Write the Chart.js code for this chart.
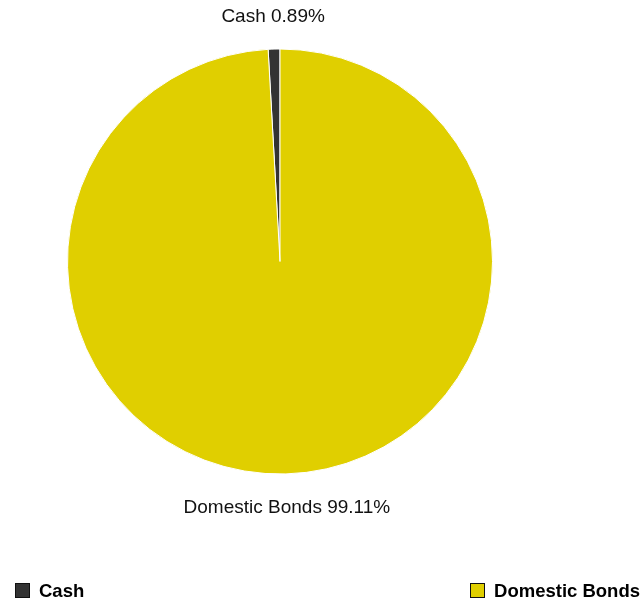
<!DOCTYPE html>
<html>
<head>
<meta charset="utf-8">
<script src="https://cdn.jsdelivr.net/npm/chart.js@4/dist/chart.umd.min.js"></script>
<style>
  html, body { margin: 0; padding: 0; background: #fff; }
  #wrap { position: relative; width: 644px; height: 601px; }
  #legend { position: absolute; left: 0; right: 0; top: 580px; height: 21px;
    font-family: "Liberation Sans", Arial, sans-serif; font-weight: bold; font-size: 18.5px; color: #000; }
  .item { position: absolute; top: 0; display: flex; align-items: center; white-space: nowrap; line-height: 21px; }
  .box { width: 13px; height: 13px; border: 1px solid #111; margin-right: 9px; }
</style>
</head>
<body>
<div id="wrap">
  <canvas id="grafica" width="644" height="601"></canvas>
  <div id="legend"></div>
</div>
<script>
// Datos del gráfico
const categorias = ["Cash", "Domestic Bonds"];
const porcentajes = [0.89, 99.11];
const colores = ["#333333", "#e0cf00"];

// Etiquetas alrededor del pastel
const etiquetasPastel = {
  id: "etiquetasPastel",
  afterDraw(chart) {
    const ctx = chart.ctx;
    const arcos = chart.getDatasetMeta(0).data;
    ctx.save();
    ctx.font = "19px 'Liberation Sans', Arial, sans-serif";
    ctx.fillStyle = "#111";
    ctx.textAlign = "center";
    ctx.textBaseline = "middle";
    arcos.forEach((arco, i) => {
      const medio = (arco.startAngle + arco.endAngle) / 2;
      const r = arco.outerRadius + 33;
      const x = arco.x + Math.cos(medio) * r;
      const y = arco.y + Math.sin(medio) * r;
      ctx.fillText(`${categorias[i]} ${porcentajes[i].toFixed(2)}%`, x, y + 1);
    });
    ctx.restore();
  },
};

new Chart(document.getElementById("grafica"), {
  type: "pie",
  data: {
    labels: categorias,
    datasets: [
      {
        data: porcentajes,
        backgroundColor: colores,
        borderColor: "#ffffff",
        borderWidth: 1,
      },
    ],
  },
  options: {
    responsive: false,
    animation: false,
    rotation: -porcentajes[0] * 3.6,
    layout: { padding: { top: 48, bottom: 126, left: 67, right: 151 } },
    plugins: {
      legend: { display: false },
      tooltip: { enabled: false },
    },
  },
  plugins: [etiquetasPastel],
});

// Leyenda en HTML
const legend = document.getElementById("legend");
const posiciones = [{ left: "15px" }, { right: "4px" }];
categorias.forEach((nombre, i) => {
  const item = document.createElement("div");
  item.className = "item";
  Object.assign(item.style, posiciones[i]);
  const box = document.createElement("span");
  box.className = "box";
  box.style.background = colores[i];
  const txt = document.createElement("span");
  txt.textContent = nombre;
  item.appendChild(box);
  item.appendChild(txt);
  legend.appendChild(item);
});
</script>
</body>
</html>
